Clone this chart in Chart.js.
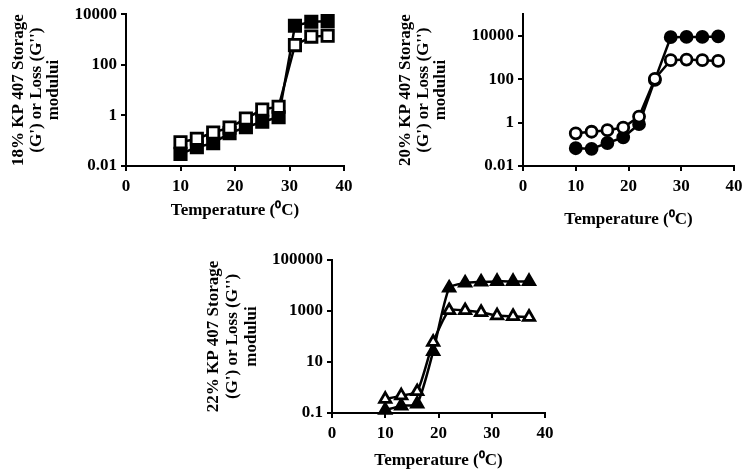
<!DOCTYPE html>
<html>
<head>
<meta charset="utf-8">
<script src="https://cdn.jsdelivr.net/npm/chart.js@4.4.1/dist/chart.umd.min.js"></script>
<style>
  body { margin: 0; background: #fff; }
  .wrap { position: relative; width: 751px; height: 473px; overflow: hidden; }
  canvas { position: absolute; }
</style>
</head>
<body>
<div class="wrap">
  <canvas id="c18" width="375" height="230" style="left:0;top:0"></canvas>
  <canvas id="c20" width="376" height="230" style="left:375px;top:0"></canvas>
  <canvas id="c22" width="400" height="238" style="left:170px;top:235px"></canvas>
</div>
<script>
const temps = [10, 13, 16, 19, 22, 25, 28, 31, 34, 37];
const xTicks = [0, 10, 20, 30, 40];

// 18% KP 407 - storage G' (filled squares), loss G'' (open squares)
const storage18 = [0.03, 0.055, 0.08, 0.2, 0.34, 0.56, 0.85, 3500, 5000, 5300];
const loss18 = [0.087, 0.12, 0.21, 0.33, 0.75, 1.7, 2.2, 600, 1300, 1400];
const yTicks18 = [0.01, 1, 100, 10000];

// 20% KP 407 - circles
const storage20 = [0.066, 0.062, 0.115, 0.21, 0.85, 93, 8700, 9000, 9000, 9400];
const loss20 = [0.32, 0.38, 0.45, 0.59, 1.9, 105, 760, 810, 760, 700];
const yTicks20 = [0.01, 1, 100, 10000];

// 22% KP 407 - triangles
const storage22 = [0.13, 0.19, 0.23, 26, 8000, 12600, 13800, 14500, 14500, 14500];
const loss22 = [0.35, 0.48, 0.7, 60, 1050, 1050, 890, 660, 620, 580];
const yTicks22 = [0.1, 10, 1000, 100000];

Chart.defaults.font.family = '"Liberation Serif", "Times New Roman", serif';
Chart.defaults.font.weight = 'bold';
Chart.defaults.color = '#000';

function panel(id, o) {
  const pts = arr => arr.map((v, i) => ({ x: temps[i], y: v }));
  const border = { color: '#000', width: 2 };
  const grid = { drawOnChartArea: false, color: '#000', lineWidth: 2, tickLength: 5 };
  const series = (vals, fill, order) => ({
    data: pts(vals),
    borderColor: '#000',
    borderWidth: 2.5,
    tension: o.tension,
    pointStyle: o.marker,
    pointRadius: o.radius,
    pointBorderWidth: 2.8,
    pointBorderColor: '#000',
    pointBackgroundColor: fill,
    clip: false,
    order: order
  });

  new Chart(document.getElementById(id).getContext('2d'), {
    type: 'line',
    data: { datasets: [series(o.loss, '#fff', 1), series(o.storage, '#000', 2)] },
    options: {
      responsive: false,
      animation: false,
      layout: { padding: { top: o.top, right: o.right, left: 0, bottom: 0 } },
      plugins: { legend: { display: false }, tooltip: { enabled: false } },
      scales: {
        x: {
          type: 'linear', min: 0, max: 40,
          afterBuildTicks: s => { s.ticks = xTicks.map(v => ({ value: v })); },
          afterFit: s => { s.height = o.xHeight; },
          ticks: { font: { size: 17, lineHeight: 1 }, padding: 7 },
          grid: grid, border: border,
          title: { display: true, text: 'Temperature (⁰C)', font: { size: 17, lineHeight: 1 },
                   padding: { top: 0, bottom: o.xTitlePad } }
        },
        y: {
          type: 'logarithmic', min: o.min, max: o.max,
          afterBuildTicks: s => { s.ticks = o.yTicks.map(v => ({ value: v })); },
          afterFit: s => { s.width = o.yWidth; },
          ticks: { font: { size: 17 }, padding: 4, callback: v => String(v) },
          grid: grid, border: border,
          title: { display: true, text: o.yTitle, font: { size: 17, lineHeight: o.yLine },
                   padding: { top: o.yTitlePad, bottom: 0 } }
        }
      }
    }
  });
}

panel('c18', {
  storage: storage18, loss: loss18, yTicks: yTicks18, min: 0.01, max: 10000,
  marker: 'rect', radius: 8, tension: 0,
  yTitle: ['18% KP 407 Storage', "(G') or Loss (G'')", 'modului'],
  top: 12, right: 31, yWidth: 126, xHeight: 64, xTitlePad: 11, yTitlePad: 10, yLine: 1.03
});

panel('c20', {
  storage: storage20, loss: loss20, yTicks: yTicks20, min: 0.01, max: 100000,
  marker: 'circle', radius: 5.5, tension: 0,
  yTitle: ['20% KP 407 Storage', "(G') or Loss (G'')", 'modului'],
  top: 13, right: 17, yWidth: 148, xHeight: 64, xTitlePad: 2, yTitlePad: 22, yLine: 1.03
});

panel('c22', {
  storage: storage22, loss: loss22, yTicks: yTicks22, min: 0.1, max: 100000,
  marker: 'triangle', radius: 6.5, tension: 0.2,
  yTitle: ['22% KP 407 Storage', "(G') or Loss (G'')", 'modului'],
  top: 25, right: 25, yWidth: 162, xHeight: 60, xTitlePad: 4, yTitlePad: 34, yLine: 1.12
});
</script>
</body>
</html>
